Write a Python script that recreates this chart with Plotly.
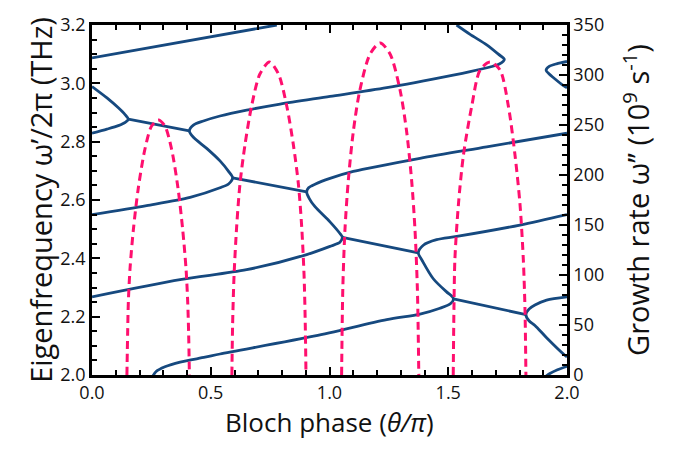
import plotly.graph_objects as go

# ---------------- data ----------------
# Blue dispersion curves: real eigenfrequency (THz) vs Bloch phase (theta/pi)
top_line_theta = [0.0, 0.778]
top_line_freq = [3.087, 3.2]

bulge_a_theta = [0.0, 0.063, 0.111, 0.140, 0.153, 0.140, 0.111, 0.063, 0.0]
bulge_a_freq = [2.989, 2.950, 2.916, 2.892, 2.877, 2.866, 2.855, 2.843, 2.829]

merged1_theta = [0.153, 0.41]
merged1_freq = [2.877, 2.837]

chain_c_theta = [1.535, 1.592, 1.662, 1.711, 1.736, 1.715, 1.676, 1.592, 1.521, 1.241,
                 1.002, 0.792, 0.651, 0.539, 0.469, 0.427, 0.41, 0.427, 0.483, 0.539,
                 0.575, 0.592, 0.575, 0.539, 0.413, 0.23, 0.0]
chain_c_freq = [3.20, 3.168, 3.132, 3.100, 3.082, 3.066, 3.056, 3.040, 3.028, 2.985,
                2.955, 2.929, 2.908, 2.888, 2.871, 2.857, 2.837, 2.815, 2.777, 2.734,
                2.698, 2.676, 2.655, 2.642, 2.609, 2.581, 2.550]

merged2_theta = [0.592, 0.904]
merged2_freq = [2.676, 2.628]

chain_d_theta = [2.0, 1.662, 1.381, 1.1, 1.002, 0.939, 0.912, 0.904, 0.915, 0.939, 1.002,
                 1.044, 1.054, 1.044, 1.002, 0.904, 0.651, 0.371, 0.0]
chain_d_freq = [2.829, 2.782, 2.743, 2.698, 2.674, 2.654, 2.642, 2.628, 2.605, 2.577, 2.525,
                2.485, 2.472, 2.455, 2.441, 2.413, 2.361, 2.327, 2.268]

merged3_theta = [1.054, 1.374]
merged3_freq = [2.472, 2.419]

chain_e_theta = [2.0, 1.802, 1.536, 1.451, 1.395, 1.374, 1.392, 1.437, 1.493, 1.515, 1.522,
                 1.510, 1.465, 1.381, 1.241, 0.939, 0.539, 0.476, 0.371, 0.307, 0.27, 0.255]
chain_e_freq = [2.550, 2.514, 2.475, 2.464, 2.445, 2.419, 2.390, 2.330, 2.285, 2.270, 2.261,
                2.245, 2.229, 2.209, 2.190, 2.134, 2.072, 2.061, 2.044, 2.028, 2.012, 1.995]

merged4_theta = [1.522, 1.827]
merged4_freq = [2.261, 2.207]

chain_f_theta = [2.0, 1.914, 1.865, 1.840, 1.827, 1.840, 1.865, 1.914, 1.992, 2.0]
chain_f_freq = [2.268, 2.257, 2.240, 2.226, 2.207, 2.186, 2.170, 2.128, 2.067, 2.062]

chain_g_theta = [1.910, 1.928, 1.960, 2.0]
chain_g_freq = [1.995, 2.005, 2.018, 2.030]

chain_h_theta = [2.0, 1.956, 1.925, 1.912, 1.925, 1.942, 1.985, 2.0]
chain_h_freq = [3.075, 3.067, 3.058, 3.045, 3.032, 3.020, 2.992, 2.985]

blue_curves = [
    (top_line_theta, top_line_freq), (bulge_a_theta, bulge_a_freq),
    (merged1_theta, merged1_freq), (chain_c_theta, chain_c_freq),
    (merged2_theta, merged2_freq), (chain_d_theta, chain_d_freq),
    (merged3_theta, merged3_freq), (chain_e_theta, chain_e_freq),
    (merged4_theta, merged4_freq), (chain_f_theta, chain_f_freq),
    (chain_g_theta, chain_g_freq), (chain_h_theta, chain_h_freq),
]

# Magenta dashed curves: growth rate (1e9 1/s) vs Bloch phase
arch1_theta = [0.147, 0.150, 0.153, 0.160, 0.174, 0.195, 0.223, 0.251, 0.279,
               0.307, 0.335, 0.362, 0.382, 0.396, 0.403, 0.407, 0.41]
arch1_growth = [0, 41, 73, 106, 145, 187, 226, 249, 255, 249, 226, 187, 145, 106, 73, 41, 0]

arch2_theta = [0.589, 0.592, 0.598, 0.609, 0.623, 0.644, 0.672, 0.707, 0.747,
               0.785, 0.82, 0.848, 0.869, 0.883, 0.893, 0.898, 0.901]
arch2_growth = [0, 50, 99, 148, 191, 230, 269, 301, 313, 301, 269, 230, 191, 148, 99, 50, 0]

arch3_theta = [1.051, 1.056, 1.065, 1.079, 1.1, 1.128, 1.171, 1.213,
               1.255, 1.297, 1.325, 1.346, 1.36, 1.37, 1.376]
arch3_growth = [0, 86, 145, 194, 243, 285, 321, 332, 321, 285, 243, 194, 145, 86, 0]

arch4_theta = [1.521, 1.524, 1.528, 1.543, 1.564, 1.599, 1.634, 1.676,
               1.718, 1.753, 1.781, 1.802, 1.816, 1.823, 1.827]
arch4_growth = [0, 67, 116, 171, 220, 269, 305, 313, 305, 269, 220, 171, 116, 67, 0]

arches = [(arch1_theta, arch1_growth), (arch2_theta, arch2_growth),
          (arch3_theta, arch3_growth), (arch4_theta, arch4_growth)]

# ---------------- figure ----------------
BLUE = "#16497f"
PINK = "#ff0f6e"
FONT = "Open Sans"

fig = go.Figure()
for th, fr in blue_curves:
    fig.add_trace(go.Scatter(x=th, y=fr, mode="lines",
                             line=dict(color=BLUE, width=2.8, shape="spline", smoothing=0.8),
                             hoverinfo="skip", showlegend=False))
for th, g in arches:
    fig.add_trace(go.Scatter(x=th, y=g, mode="lines", yaxis="y2",
                             line=dict(color=PINK, width=3, dash="8px,5px", shape="spline", smoothing=0.8),
                             hoverinfo="skip", showlegend=False))

axis_common = dict(showline=True, linecolor="black", linewidth=2.5, ticks="inside",
                   tickcolor="black", tickwidth=2, ticklen=8, showgrid=False, zeroline=False,
                   tickfont=dict(family=FONT, size=18, color="#111"))

fig.update_layout(
    width=685, height=453,
    margin=dict(l=92, r=118, t=17, b=78),
    paper_bgcolor="white", plot_bgcolor="white",
    font=dict(family=FONT, color="#111"),
    xaxis=dict(range=[0, 2], dtick=0.5, tickformat=".1f", mirror="ticks",
               minor=dict(dtick=0.1, ticks="inside", ticklen=5, tickwidth=1.5, tickcolor="black"),
               **axis_common),
    yaxis=dict(range=[2.0, 3.2], dtick=0.2, tickformat=".1f",
               minor=dict(dtick=0.05, ticks="inside", ticklen=5, tickwidth=1.5, tickcolor="black"),
               title=dict(text="Eigenfrequency ω’/2π (THz)", font=dict(family=FONT, size=29), standoff=0),
               **axis_common),
    yaxis2=dict(range=[0, 350], dtick=50, overlaying="y", side="right",
                minor=dict(dtick=10, ticks="inside", ticklen=5, tickwidth=1.5, tickcolor="black"),
                title=dict(text="Growth rate ω’’ (10<sup>9</sup> s<sup>-1</sup>)",
                           font=dict(family=FONT, size=29), standoff=26),
                **axis_common),
    annotations=[dict(text="Bloch phase (<i>θ/π</i>)", xref="paper", yref="paper",
                      x=0.5, y=-0.135, xanchor="center", yanchor="middle", showarrow=False,
                      font=dict(family=FONT, size=26, color="#111"))],
)

fig.write_html("out.html")
